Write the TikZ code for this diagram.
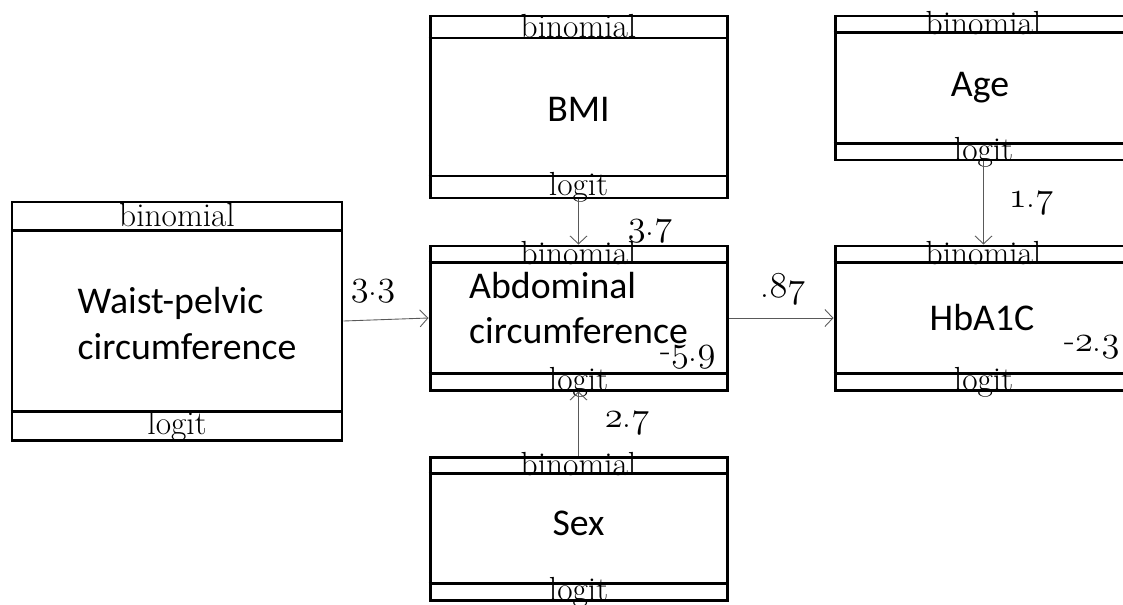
\documentclass[tikz,border=0pt]{standalone}
\usepackage{fontspec}
\newfontfamily\labelfont{Carlito}
\usetikzlibrary{arrows.meta}

% old-style digits as in the scanned figure
\newcommand{\osn}[1]{$\mathnormal{#1}$}

% one model box: name, x, y, width, height, strip height, text, text shift
\newcommand{\glmbox}[8]{%
  \node[glm, minimum width=#4cm, minimum height=#5cm] (#1) at (#2,#3) {};
  \draw[strip] ([yshift=-#6cm]#1.north west) -- ([yshift=-#6cm]#1.north east);
  \draw[strip] ([yshift=#6cm]#1.south west) -- ([yshift=#6cm]#1.south east);
  \node[fam] (#1-dist) at ([yshift=-#6cm/2]#1.north) {binomial};
  \node[fam] (#1-link) at ([yshift=#6cm/2]#1.south) {logit};
  \node[glmtext] (#1-name) at ([shift={(#8)}]#1.center) {#7};
}

\begin{document}
\begin{tikzpicture}[
    glm/.style={draw, line width=1.7pt, inner sep=0pt},
    glmtext/.style={inner sep=0pt, align=left,
      font=\labelfont\fontsize{21.5}{26}\selectfont},
    strip/.style={line width=1.4pt},
    fam/.style={inner sep=0pt, font=\fontsize{19}{20}\selectfont},
    coef/.style={inner sep=0pt, font=\fontsize{20}{22}\selectfont},
    edge/.style={draw=black!65, line width=0.5pt,
      -{Straight Barb[length=1.6mm,width=3.4mm]}}
  ]
    \useasboundingbox (0,0) rectangle (22.46,12.08);
    \clip (0,0) rectangle (22.46,12.08);

    \glmbox{waist}{3.54}{5.66}{6.6}{4.76}{0.6}{Waist-pelvic\\circumference}{0.2,-0.05}
    \glmbox{bmi}{11.57}{9.94}{5.94}{3.64}{0.47}{BMI}{0,-0.05}
    \glmbox{abd}{11.57}{5.72}{5.94}{2.88}{0.36}{Abdominal\\circumference}{0,0.2}
    \glmbox{sex}{11.57}{1.51}{5.94}{2.86}{0.36}{Sex}{0,0.1}
    \glmbox{age}{19.67}{10.32}{5.94}{2.88}{0.36}{Age}{-0.07,0}
    \glmbox{hba}{19.67}{5.72}{5.94}{2.88}{0.36}{HbA1C}{-0.03,0}

    % paths
    \draw[edge] (waist.east) -- (abd.west);
    \draw[edge] (bmi.south) -- (abd.north);
    \draw[edge] (sex.north) -- (abd.south);
    \draw[edge] (abd.east) -- (hba.west);
    \draw[edge] (age.south) -- (hba.north);

    % coefficients
    \node[coef] (c-waist) at (7.46,6.26) {\osn{3}.\osn{3}};
    \node[coef] (c-bmi) at (13.0,7.46) {\osn{3}.\osn{7}};
    \node[coef] (c-abd) at (13.76,4.94) {-\osn{5}.\osn{9}};
    \node[coef] (c-sex) at (12.54,3.62) {\osn{2}.\osn{7}};
    \node[coef] (c-hba-in) at (15.66,6.30) {.\osn{87}};
    \node[coef] (c-age) at (20.62,8.02) {\osn{1}.\osn{7}};
    \node[coef] (c-hba) at (21.84,5.14) {-\osn{2}.\osn{3}};

\end{tikzpicture}
\end{document}
